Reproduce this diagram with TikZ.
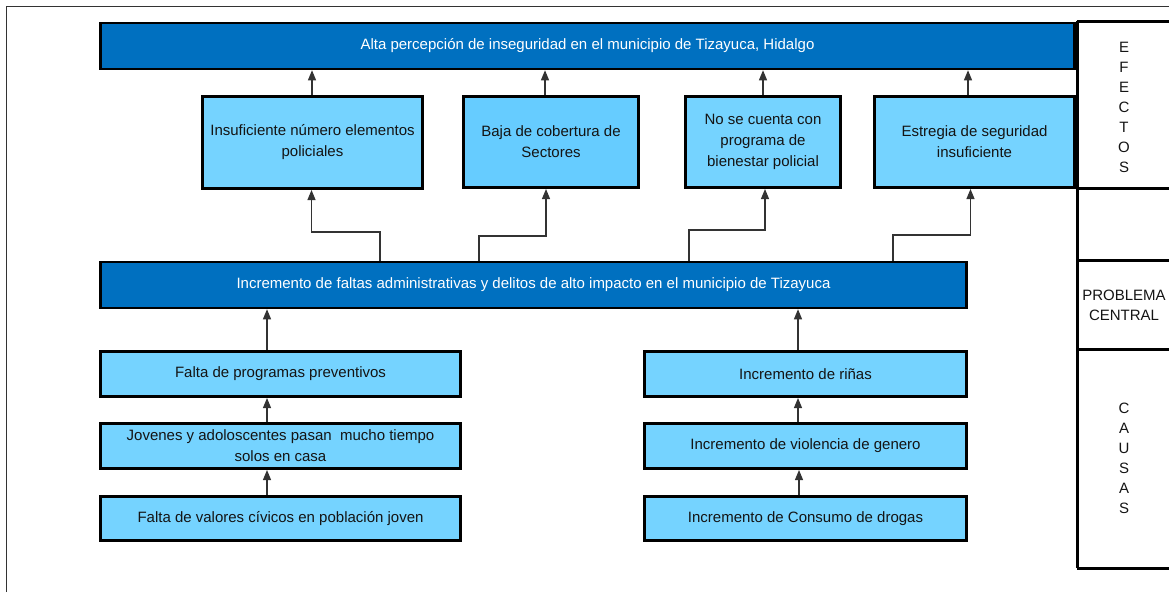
\documentclass[tikz,border=0pt]{standalone}
\usepackage{fontspec}
\setmainfont{Liberation Sans}
\usetikzlibrary{arrows.meta}
\definecolor{azulosc}{RGB}{0,112,192}
\definecolor{azulcl}{RGB}{117,211,255}
\definecolor{azulmed}{RGB}{102,204,255}
\definecolor{gristxt}{RGB}{20,20,20}

\begin{document}
\begin{tikzpicture}[x=1pt,y=-1pt,
    caja/.style={draw=black, line width=3pt, fill=azulcl, text=gristxt,
      align=center, inner sep=0pt, font=\fontsize{15}{21}\selectfont},
    cajaosc/.style={caja, fill=azulosc, text=white, line width=2.5pt},
    flecha/.style={draw=black!80, line width=1.1pt, -{Triangle[width=8pt,length=10pt]}},
    marco/.style={line width=3pt},
    rotulo/.style={text=gristxt, align=center, font=\fontsize{15}{20}\selectfont}]
    \useasboundingbox (0,0) rectangle (1169,592);
    \draw [black!80, line width=1pt] (6,592) -- (6,6) -- (1169,6);
    % efectos
    \node [cajaosc, minimum width=974, minimum height=46] (alta) at (587.5,46)
        {Alta percepción de inseguridad en el municipio de Tizayuca, Hidalgo};
    \node [caja, minimum width=220, minimum height=92] (ins) at (312.5,142.5)
        {Insuficiente número elementos\\policiales};
    \node [caja, fill=azulmed, minimum width=175, minimum height=91] (baja) at (551,142)
        {Baja de cobertura de\\Sectores};
    \node [caja, minimum width=155, minimum height=91] (nose) at (763,142)
        {No se cuenta con\\programa de\\bienestar policial};
    \node [caja, minimum width=200, minimum height=91] (estr) at (974.5,142)
        {Estregia de seguridad\\insuficiente};
    % problema central
    \node [cajaosc, minimum width=866, minimum height=46] (mid) at (533.5,285)
        {Incremento de faltas administrativas y delitos de alto impacto en el municipio de Tizayuca};
    % causas
    \node [caja, minimum width=360, minimum height=45] (falta) at (280.5,374)
        {Falta de programas preventivos};
    \node [caja, minimum width=360, minimum height=45] (jov) at (280.5,446)
        {Jovenes y adoloscentes pasan\ \ mucho tiempo\\solos en casa};
    \node [caja, minimum width=360, minimum height=44] (val) at (280.5,518.5)
        {Falta de valores cívicos en población joven};
    \node [caja, minimum width=322, minimum height=45] (rin) at (805.5,374)
        {Incremento de riñas};
    \node [caja, minimum width=322, minimum height=45] (vio) at (805.5,446)
        {Incremento de violencia de genero};
    \node [caja, minimum width=322, minimum height=44] (dro) at (805.5,518.5)
        {Incremento de Consumo de drogas};
    % flechas hacia arriba
    \draw [flecha] (312,0 |- ins.north) -- (312,0 |- alta.south);
    \draw [flecha] (545,0 |- baja.north) -- (545,0 |- alta.south);
    \draw [flecha] (763,0 |- nose.north) -- (763,0 |- alta.south);
    \draw [flecha] (968,0 |- estr.north) -- (968,0 |- alta.south);
    \draw [flecha] (380,0 |- mid.north) -- (380,232) -| ([xshift=-1pt]ins.south);
    \draw [flecha] (479,0 |- mid.north) -- (479,236) -| ([xshift=-5pt]baja.south);
    \draw [flecha] (689,0 |- mid.north) -- (689,230) -| ([xshift=2pt]nose.south);
    \draw [flecha] (893,0 |- mid.north) -- (893,235) -| ([xshift=-4pt]estr.south);
    \draw [flecha] (267,0 |- falta.north) -- (267,0 |- mid.south);
    \draw [flecha] (267,0 |- jov.north) -- (267,0 |- falta.south);
    \draw [flecha] (267,0 |- val.north) -- (267,0 |- jov.south);
    \draw [flecha] (798,0 |- rin.north) -- (798,0 |- mid.south);
    \draw [flecha] (798,0 |- vio.north) -- (798,0 |- rin.south);
    \draw [flecha] (799,0 |- dro.north) -- (799,0 |- vio.south);
    % columna derecha
    \draw [marco] (1077,21) -- (1077,568);
    \foreach \y in {21,188,260,349,568}
        \draw [marco] (1077,\y) -- (1169,\y);
    \node [rotulo] (efectos) at (1124,107) {E\\F\\E\\C\\T\\O\\S};
    \node [rotulo] (problema) at (1124,305) {PROBLEMA\\CENTRAL};
    \node [rotulo] (causas) at (1124,458) {C\\A\\U\\S\\A\\S};
\end{tikzpicture}
\end{document}
